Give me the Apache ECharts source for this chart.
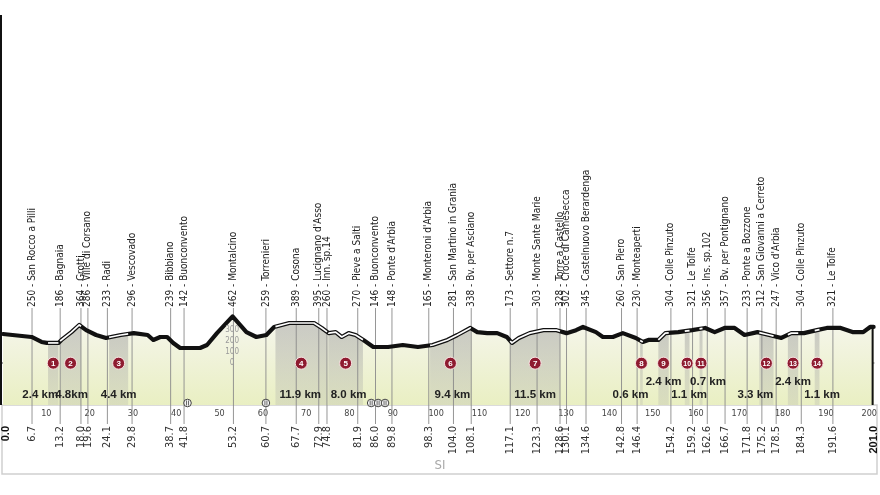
<!DOCTYPE html>
<html><head><meta charset="utf-8">
<script src="https://cdn.jsdelivr.net/npm/echarts@6/dist/echarts.min.js"></script>
<style>html,body{margin:0;padding:0;background:#fff}#c{width:880px;height:495px}</style>
</head><body><div id="c"></div>
<script>
// ---------------- DATA ----------------
const profileKm   = [0,6.6,8.9,10.1,12.8,13.5,15.8,17.6,19.2,21.5,23.8,24.9,27.2,30.2,33.4,34.7,36.3,37.9,39.3,40.9,45.5,47.1,49.4,53.0,56.2,58.5,60.8,62.6,66.1,71.8,73.6,75.2,76.8,78.2,79.8,81.4,83.2,85.5,88.9,92.3,95.8,99.2,102.6,104.9,107.9,109.5,111.8,114.1,116.3,117.5,119.1,121.6,124.8,127.8,130.1,132.3,133.9,136.9,138.5,140.8,143.1,146.1,147.7,149.0,151.3,152.9,155.9,159.1,162.1,164.3,166.6,168.9,171.2,174.2,176.9,179.7,182.0,184.9,187.9,190.2,193.4,196.3,198.6,200.2,201];
const profileElev = [265,238,193,184,184,211,282,347,300,256,229,238,256,273,256,211,238,238,184,138,138,165,273,425,282,238,256,329,365,365,320,273,282,238,273,256,211,147,147,165,147,165,211,256,320,282,273,273,238,184,229,273,300,300,273,300,329,282,238,238,273,229,193,211,211,273,282,300,320,282,320,320,256,282,256,229,273,273,300,320,320,282,282,329,329];

const waypointKm   = [6.7,13.2,18.0,19.6,24.1,29.8,38.7,41.8,53.2,60.7,67.7,72.9,74.8,81.9,86.0,89.8,98.3,104.0,108.1,117.1,123.3,128.6,130.1,134.6,142.8,146.4,154.2,159.2,162.6,166.7,171.8,175.2,178.5,184.3,191.6];
const waypointElev = [250,186,364,286,233,296,239,142,462,259,389,395,260,270,146,148,165,281,338,173,303,328,302,345,260,230,304,321,356,357,233,312,247,304,321];
const waypointName = ["San Rocco a Pilli","Bagnaia","Grotti","Ville di Corsano","Radi","Vescovado","Bibbiano","Buonconvento","Montalcino","Torrenieri","Cosona","Lucignano d'Asso","Inn. sp.14","Pieve a Salti","Buonconvento","Ponte d'Arbia","Monteroni d'Arbia","San Martino in Grania","Bv. per Asciano","Settore n.7","Monte Sante Marie","Torre a Castello","Croce di Camesecca","Castelnuovo Berardenga","San Piero","Monteaperti","Colle Pinzuto","Le Tolfe","Ins. sp.102","Bv. per Pontignano","Ponte a Bozzone","San Giovanni a Cerreto","Vico d'Arbia","Colle Pinzuto","Le Tolfe"];

const sectorStart  = [10.4,13.2,24.5,62.9,75.1,98.6,117.1,147.1,151.3,157.4,160.8,174.6,181.2,187.4];
const sectorEnd    = [12.8,18.0,28.9,74.8,83.1,108.0,128.6,147.7,153.7,158.5,161.5,177.9,183.6,188.5];
const sectorLength = ["2.4 km","4.8km","4.4 km","11.9 km","8.0 km","9.4 km","11.5 km","0.6 km","2.4 km","1.1 km","0.7 km","3.3 km","2.4 km","1.1 km"];

const kmTicks   = [10,20,30,40,50,60,70,80,90,100,110,120,130,140,150,160,170,180,190,200];
const elevTicks = [0,100,200,300];
const elevScaleKm = 52.9;
const iconKm = [42.6,60.7,85.0,86.6,88.2];
const startKm = 0, finishKm = 201;
const regionLabel = "SI";

// ---------------- LAYOUT / STYLE ----------------
const Y_MIN = -380, Y_MAX = 3300;
const FONT = "'Liberation Sans Narrow','DejaVu Sans Condensed','Liberation Sans',sans-serif";
const BOLD_FONT = "'Liberation Sans Narrow','Liberation Sans',sans-serif";
const NAME_ANCHOR_Y = 307;    // px, bottom of rotated waypoint names
const lenDx = [-13,1,0,-1,3,2,0,-11,0,2,7,-11,0,5]; // px nudges of length labels
const upperRow = [8,10,12];   // sector indices whose length sits on upper row

function elevAt(km){
  for(let i=1;i<profileKm.length;i++){
    if(km<=profileKm[i]){
      const t=(km-profileKm[i-1])/(profileKm[i]-profileKm[i-1]);
      return profileElev[i-1]+t*(profileElev[i]-profileElev[i-1]);
    }
  }
  return profileElev[profileElev.length-1];
}
function segmentPoints(a,b){
  const pts=[[a,elevAt(a)]];
  for(let i=0;i<profileKm.length;i++){ if(profileKm[i]>a && profileKm[i]<b) pts.push([profileKm[i],profileElev[i]]); }
  pts.push([b,elevAt(b)]);
  return pts;
}
const sectorData = sectorStart.map((s,i)=>[s,sectorEnd[i],i]);

const chart = echarts.init(document.getElementById('c'), null, {renderer:'canvas'});
const option = {
  animation:false,
  grid:{left:1,right:2,top:0,bottom:90},
  xAxis:{type:'value',min:0,max:finishKm,interval:10,
    axisLine:{show:true,lineStyle:{color:'#111',width:1.5}},
    axisTick:{show:false},splitLine:{show:false},
    axisLabel:{margin:4,fontSize:9,color:'#444',fontFamily:FONT,
      formatter:v=>kmTicks.indexOf(v)>=0?String(v):''}},
  yAxis:{type:'value',min:Y_MIN,max:Y_MAX,show:false,splitLine:{show:false}},
  series:[
    { // fill under profile
      type:'line',z:1,silent:true,showSymbol:false,
      data:profileKm.map((k,i)=>[k,profileElev[i]]),
      lineStyle:{width:0},
      areaStyle:{origin:'start',opacity:1,color:{type:'linear',x:0,y:0,x2:0,y2:1,colorStops:[{offset:0,color:'#f6f6ee'},{offset:1,color:'#e9efc2'}]}}
    },
    { // gravel sector bands
      type:'custom',z:2,silent:true,data:sectorData,encode:{x:[0,1]},
      renderItem:(p,api)=>{
        const i=api.value(2);
        const pts=segmentPoints(sectorStart[i],sectorEnd[i]).map(q=>api.coord(q));
        const base=api.coord([0,Y_MIN])[1];
        const poly=pts.concat([[pts[pts.length-1][0],base],[pts[0][0],base]]);
        return {type:'polygon',shape:{points:poly},style:{fill:{type:'linear',x:0,y:0,x2:0,y2:1,colorStops:[{offset:0,color:'rgba(150,150,150,0.45)'},{offset:1,color:'rgba(170,170,170,0.25)'}]}}};
      }
    },
    { // waypoint lines and labels
      type:'custom',z:3,silent:true,
      data:waypointKm.map((k,i)=>[k,waypointElev[i],i]),encode:{x:0,y:1},
      renderItem:(p,api)=>{
        const i=api.value(2);
        const x=api.coord([waypointKm[i],0])[0];
        const base=api.coord([0,Y_MIN])[1];
        return {type:'group',children:[
          {type:'line',shape:{x1:x,y1:NAME_ANCHOR_Y+1,x2:x,y2:base+19},style:{stroke:'#8a8a8a',lineWidth:0.9}},
          {type:'text',x:x,y:NAME_ANCHOR_Y,rotation:Math.PI/2,
            style:{x:0,y:0,text:waypointElev[i]+' - '+waypointName[i],align:'left',verticalAlign:'middle',fontSize:10,fontFamily:FONT,fill:'#222'}},
          {type:'text',x:x,y:base+21,rotation:Math.PI/2,
            style:{x:0,y:0,text:waypointKm[i].toFixed(1),align:'right',verticalAlign:'middle',fontSize:11,fontFamily:FONT,fill:'#333'}}
        ]};
      }
    },
    { // start / finish
      type:'custom',z:3,silent:true,data:[[startKm],[finishKm]],encode:{x:0},
      renderItem:(p,api)=>{
        const km=api.value(0);
        const x=api.coord([km,0])[0];
        const base=api.coord([0,Y_MIN])[1];
        const top=api.coord([km,elevAt(km)])[1];
        const children=[{type:'text',x:km===startKm?x+3:x,y:base+21,rotation:Math.PI/2,
          style:{x:0,y:0,text:km.toFixed(1),align:'right',verticalAlign:'middle',fontSize:11,fontWeight:'bold',fontFamily:BOLD_FONT,fill:'#111'}}];
        if(km===finishKm) children.push({type:'line',shape:{x1:x-1,y1:top,x2:x-1,y2:base},style:{stroke:'#111',lineWidth:2}});
        return {type:'group',children};
      }
    },
    { // profile line
      type:'line',z:4,silent:true,showSymbol:false,
      data:profileKm.map((k,i)=>[k,profileElev[i]]),
      lineStyle:{color:'#111',width:4.2,join:'round',cap:'round'}
    },
    { // white gravel overlay
      type:'custom',z:5,silent:true,data:sectorData,encode:{x:[0,1]},
      renderItem:(p,api)=>{
        const i=api.value(2);
        const pts=segmentPoints(sectorStart[i],sectorEnd[i]).map(q=>api.coord(q));
        return {type:'polyline',shape:{points:pts},style:{stroke:'#fff',lineWidth:1.7,fill:null,lineJoin:'round'}};
      }
    },
    { // sector badges and lengths
      type:'custom',z:6,silent:true,data:sectorData,encode:{x:[0,1]},
      renderItem:(p,api)=>{
        const i=api.value(2);
        const mid=(sectorStart[i]+sectorEnd[i])/2;
        const c=api.coord([mid,0]);
        const base=api.coord([0,Y_MIN])[1];
        const ly=upperRow.indexOf(i)>=0?base-23:base-10;
        return {type:'group',children:[
          {type:'circle',shape:{cx:c[0],cy:c[1],r:6},style:{fill:'#8e1b30',stroke:'rgba(255,235,235,0.9)',lineWidth:1}},
          {type:'text',x:c[0],y:c[1]+0.5,style:{text:String(i+1),align:'center',verticalAlign:'middle',fontSize:i>=9?7:8,fontWeight:'bold',fontFamily:"'Liberation Sans',sans-serif",fill:'#fff'}},
          {type:'text',x:c[0]+lenDx[i],y:ly,style:{text:sectorLength[i],align:'center',verticalAlign:'middle',fontSize:11.5,fontWeight:'bold',fontFamily:BOLD_FONT,fill:'#222'}}
        ]};
      }
    },
    { // elevation scale
      type:'custom',z:6,silent:true,data:elevTicks.map(v=>[elevScaleKm,v]),encode:{x:0,y:1},
      renderItem:(p,api)=>{
        const c=api.coord([api.value(0),api.value(1)]);
        return {type:'text',x:c[0],y:c[1],style:{text:String(api.value(1)),align:'center',verticalAlign:'middle',fontSize:8,fontFamily:FONT,fill:'#9a9a9a'}};
      }
    },
    { // icons on baseline
      type:'custom',z:7,silent:true,data:iconKm.map(k=>[k]),encode:{x:0},
      renderItem:(p,api)=>{
        const x=api.coord([api.value(0),0])[0];
        const base=api.coord([0,Y_MIN])[1];
        return {type:'group',children:[
          {type:'circle',shape:{cx:x,cy:base-2,r:3.8},style:{fill:'#f4f4f4',stroke:'#444',lineWidth:1}},
          {type:'line',shape:{x1:x-1,y1:base-4.5,x2:x-1,y2:base+0.5},style:{stroke:'#444',lineWidth:0.8}},
          {type:'line',shape:{x1:x+1,y1:base-4.5,x2:x+1,y2:base+0.5},style:{stroke:'#444',lineWidth:0.8}}
        ]};
      }
    }
  ],
  graphic:[
    {type:'line',shape:{x1:1,y1:15,x2:1,y2:405},style:{stroke:'#111',lineWidth:2},z:10},
    {type:'rect',shape:{x:2,y:405,width:875,height:69},style:{fill:null,stroke:'#cfcfcf',lineWidth:1.5},z:0},
    {type:'text',x:440,y:466,style:{text:regionLabel,align:'center',verticalAlign:'middle',fontSize:13,fontFamily:FONT,fill:'#a8a8a8'}}
  ]
};
chart.setOption(option);
</script>
</body></html>
